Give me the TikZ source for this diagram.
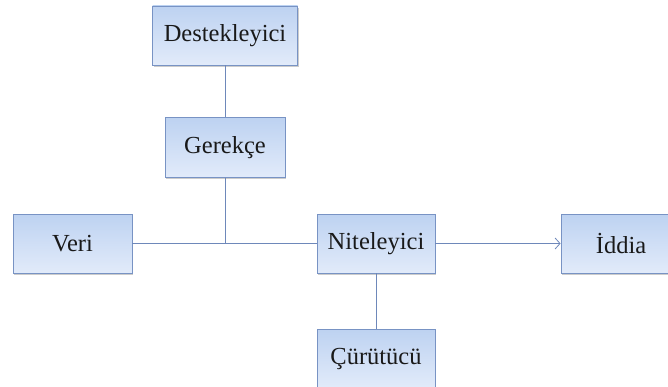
\documentclass[tikz,border=0pt]{standalone}
\usepackage{fontspec}
\setmainfont{Liberation Serif}
\usetikzlibrary{arrows.meta,shadows}
\definecolor{boxtop}{HTML}{BDD2F1}
\definecolor{boxbot}{HTML}{E2EBFA}
\definecolor{boxline}{HTML}{7893C4}
\definecolor{linkcol}{HTML}{6E88BA}
\tikzset{
  pbox/.style={draw=boxline, line width=0.8pt, top color=boxtop, bottom color=boxbot,
    minimum width=#1, minimum height=59pt, inner sep=0pt, font=\fontsize{24.5}{28}\selectfont,
    text=black!90, drop shadow={shadow xshift=1pt, shadow yshift=-2pt, opacity=0.4, fill=black!50}},
  pbox/.default=119pt,
  link/.style={draw=linkcol, line width=0.8pt}
}
\begin{document}
\begin{tikzpicture}[x=1pt,y=-1pt]
\useasboundingbox (0,0) rectangle (668,387);
\begin{scope}
\clip (0,0) rectangle (668,387);
\node[pbox=145pt] (dest) at (225,35.5) {Destekleyici};
\node[pbox=120pt, minimum height=60pt] (ger) at (225,147.5) {Gerekçe};
\node[pbox] (veri) at (72.5,243.5) {Veri};
\node[pbox=118pt] (nit) at (376,243.5) {Niteleyici};
\node[pbox=120pt] (idd) at (621,243.5) {İddia};
\node[pbox=118pt] (cur) at (376,358.5) {Çürütücü};
\coordinate (j) at (ger.south |- veri.east);
\draw[link] (dest) -- (ger);
\draw[link] (ger) -- (j);
\draw[link] (veri) -- (nit);
\draw[link, -{Straight Barb[length=5pt,width=11pt,line width=0.8pt]}] (nit) -- (idd);
\draw[link] (nit) -- (cur);
\end{scope}
\end{tikzpicture}
\end{document}
